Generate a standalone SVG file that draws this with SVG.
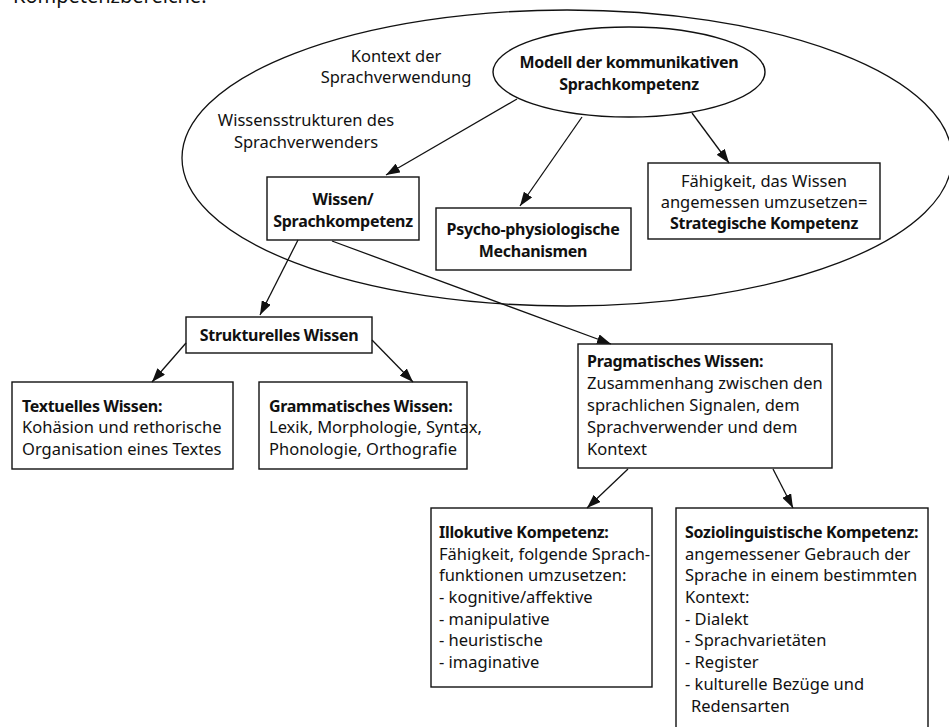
<svg xmlns="http://www.w3.org/2000/svg" width="949" height="727" viewBox="0 0 949 727">
<style>
text{font-family:"Noto Sans","DejaVu Sans",sans-serif;font-size:16.5px;fill:#111}
.b{font-weight:bold;font-size:16px;letter-spacing:-0.3px}
.c{text-anchor:middle}
.box{fill:#fff;stroke:#111;stroke-width:1.4}
.ln{stroke:#111;stroke-width:1.3;fill:none;marker-end:url(#ah)}
</style>
<defs>
<marker id="ah" viewBox="0 0 14 10" refX="14" refY="5" markerWidth="14" markerHeight="10" markerUnits="userSpaceOnUse" orient="auto">
<path d="M0,0 L14,5 L0,10 z" fill="#111"/>
</marker>
</defs>
<rect width="949" height="727" fill="#fff"/>
<text x="13" y="3" style="font-size:20px">Kompetenzbereiche.</text>
<g id="kontext">
<ellipse cx="567" cy="158" rx="385" ry="148" fill="none" stroke="#111" stroke-width="1.3"/>
<text class="c" x="396" y="62">Kontext der</text>
<text class="c" x="396" y="83">Sprachverwendung</text>
<text class="c" x="306" y="126">Wissensstrukturen des</text>
<text class="c" x="306" y="148">Sprachverwenders</text>
</g>
<g id="modell">
<ellipse cx="629" cy="72" rx="136" ry="45" fill="#fff" stroke="#111" stroke-width="1.4"/>
<text class="c b" x="629" y="68">Modell der kommunikativen</text>
<text class="c b" x="629" y="90">Sprachkompetenz</text>
</g>
<g id="wissen">
<rect class="box" x="267" y="177" width="152" height="63"/>
<text class="c b" x="343" y="205">Wissen/</text>
<text class="c b" x="343" y="227">Sprachkompetenz</text>
</g>
<g id="psycho">
<rect class="box" x="436" y="208" width="195" height="62"/>
<text class="c b" x="533" y="235">Psycho-physiologische</text>
<text class="c b" x="533" y="257">Mechanismen</text>
</g>
<g id="strategisch">
<rect class="box" x="648" y="163" width="232" height="76"/>
<text class="c" x="764" y="187">Fähigkeit, das Wissen</text>
<text class="c" x="764" y="208">angemessen umzusetzen=</text>
<text class="c b" x="764" y="229">Strategische Kompetenz</text>
</g>
<g id="strukturell">
<rect class="box" x="186" y="317" width="186" height="36"/>
<text class="c b" x="279" y="341">Strukturelles Wissen</text>
</g>
<g id="textuell">
<rect class="box" x="12" y="382" width="221" height="87"/>
<text class="b" x="22" y="412">Textuelles Wissen:</text>
<text x="22" y="433">Kohäsion und rethorische</text>
<text x="22" y="455">Organisation eines Textes</text>
</g>
<g id="grammatisch">
<rect class="box" x="259" y="382" width="208" height="87"/>
<text class="b" x="269" y="412">Grammatisches Wissen:</text>
<text x="269" y="433">Lexik, Morphologie, Syntax,</text>
<text x="269" y="455">Phonologie, Orthografie</text>
</g>
<g id="pragmatisch">
<rect class="box" x="578" y="344" width="254" height="124"/>
<text class="b" x="587" y="367">Pragmatisches Wissen:</text>
<text x="587" y="389">Zusammenhang zwischen den</text>
<text x="587" y="411">sprachlichen Signalen, dem</text>
<text x="587" y="433">Sprachverwender und dem</text>
<text x="587" y="455">Kontext</text>
</g>
<g id="illokutiv">
<rect class="box" x="431" y="508" width="221" height="179"/>
<text class="b" x="439" y="538">Illokutive Kompetenz:</text>
<text x="439" y="560">Fähigkeit, folgende Sprach-</text>
<text x="439" y="581">funktionen umzusetzen:</text>
<text x="439" y="603">- kognitive/affektive</text>
<text x="439" y="625">- manipulative</text>
<text x="439" y="646">- heuristische</text>
<text x="439" y="668">- imaginative</text>
</g>
<g id="sozio">
<rect class="box" x="676" y="508" width="252" height="230"/>
<text class="b" x="685" y="538">Soziolinguistische Kompetenz:</text>
<text x="685" y="560">angemessener Gebrauch der</text>
<text x="685" y="581">Sprache in einem bestimmten</text>
<text x="685" y="603">Kontext:</text>
<text x="685" y="625">- Dialekt</text>
<text x="685" y="646">- Sprachvarietäten</text>
<text x="685" y="668">- Register</text>
<text x="685" y="690">- kulturelle Bezüge und</text>
<text x="691" y="712">Redensarten</text>
</g>
<g id="connectors">
<line class="ln" x1="517" y1="99" x2="386" y2="175"/>
<line class="ln" x1="582" y1="117" x2="520" y2="206"/>
<line class="ln" x1="692" y1="113" x2="729" y2="163"/>
<line class="ln" x1="298" y1="240" x2="260" y2="315"/>
<line class="ln" x1="332" y1="241" x2="611" y2="344"/>
<line class="ln" x1="186" y1="343" x2="152" y2="382"/>
<line class="ln" x1="372" y1="340" x2="413" y2="382"/>
<line class="ln" x1="628" y1="469" x2="587" y2="508"/>
<line class="ln" x1="773" y1="469" x2="793" y2="508"/>
</g>
</svg>
